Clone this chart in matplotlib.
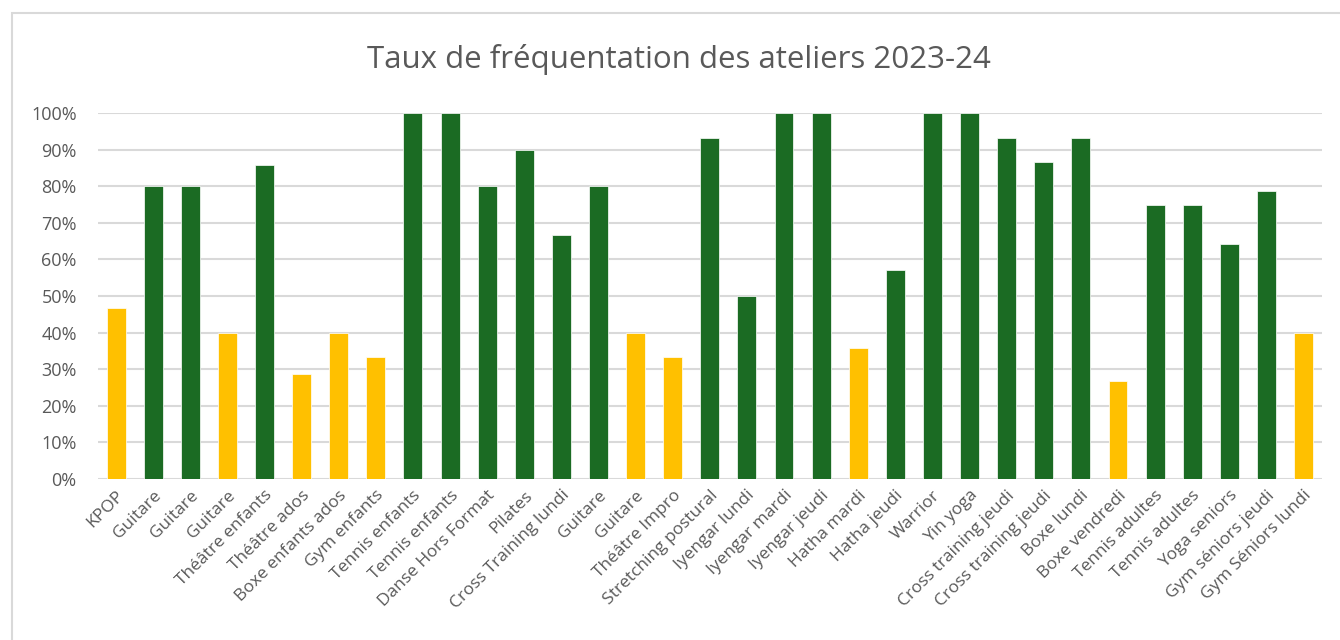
import numpy as np
import matplotlib.pyplot as plt
from matplotlib.patches import Rectangle
from matplotlib.ticker import PercentFormatter

plt.rcParams['font.family'] = ['Open Sans', 'DejaVu Sans']

ateliers = ['KPOP', 'Guitare', 'Guitare', 'Guitare', 'Théâtre enfants', 'Théâtre ados',
            'Boxe enfants ados', 'Gym enfants', 'Tennis enfants', 'Tennis enfants',
            'Danse Hors Format', 'Pilates', 'Cross Training lundi', 'Guitare', 'Guitare',
            'Théâtre Impro', 'Stretching postural', 'Iyengar lundi', 'Iyengar mardi',
            'Iyengar jeudi', 'Hatha mardi', 'Hatha jeudi', 'Warrior', 'Yin yoga',
            'Cross training jeudi', 'Cross training jeudi', 'Boxe lundi', 'Boxe vendredi',
            'Tennis adultes', 'Tennis adultes', 'Yoga seniors', 'Gym séniors jeudi',
            'Gym Séniors lundi']
taux = [0.467, 0.80, 0.80, 0.40, 0.857, 0.286,
        0.40, 0.333, 1.00, 1.00,
        0.80, 0.90, 0.667, 0.80, 0.40,
        0.333, 0.933, 0.50, 1.00,
        1.00, 0.357, 0.571, 1.00, 1.00,
        0.933, 0.867, 0.933, 0.267,
        0.75, 0.75, 0.643, 0.786,
        0.40]

vert = '#1B6B23'
jaune = '#FFC000'
couleurs = [vert if t >= 0.5 else jaune for t in taux]
gris = '#595959'

fig = plt.figure(figsize=(13.4, 6.4), dpi=100)
ax = fig.add_axes([0.0728, 0.2516, 0.9138, 0.5718])

x = np.arange(len(ateliers))
ax.bar(x, taux, width=0.51, color=couleurs, edgecolor='white', linewidth=0.5, zorder=3)

ax.set_ylim(0, 1)
ax.set_xlim(-0.5, len(ateliers) - 0.5)
ax.set_yticks(np.arange(0, 1.01, 0.1))
ax.yaxis.set_major_formatter(PercentFormatter(1.0, decimals=0))
ax.grid(axis='y', color='#D9D9D9', linewidth=1.5, zorder=0)
ax.set_xticks(x)
ax.set_xticklabels(ateliers, rotation=45, ha='right', rotation_mode='anchor')
ax.tick_params(axis='y', length=0, labelsize=13, labelcolor=gris, pad=15)
ax.tick_params(axis='x', length=0, labelsize=12.5, labelcolor=gris, pad=6)
for s in ax.spines.values():
    s.set_visible(False)

fig.suptitle('Taux de fréquentation des ateliers 2023-24', x=0.507, y=0.932,
             fontsize=22.5, color=gris)

# cadre du graphique
fig.patches.append(Rectangle((0.009, -0.05), 1.05, 1.0297, transform=fig.transFigure,
                             fill=False, edgecolor='#D9D9D9', linewidth=1.5))

fig.savefig('out.png', dpi=100)
